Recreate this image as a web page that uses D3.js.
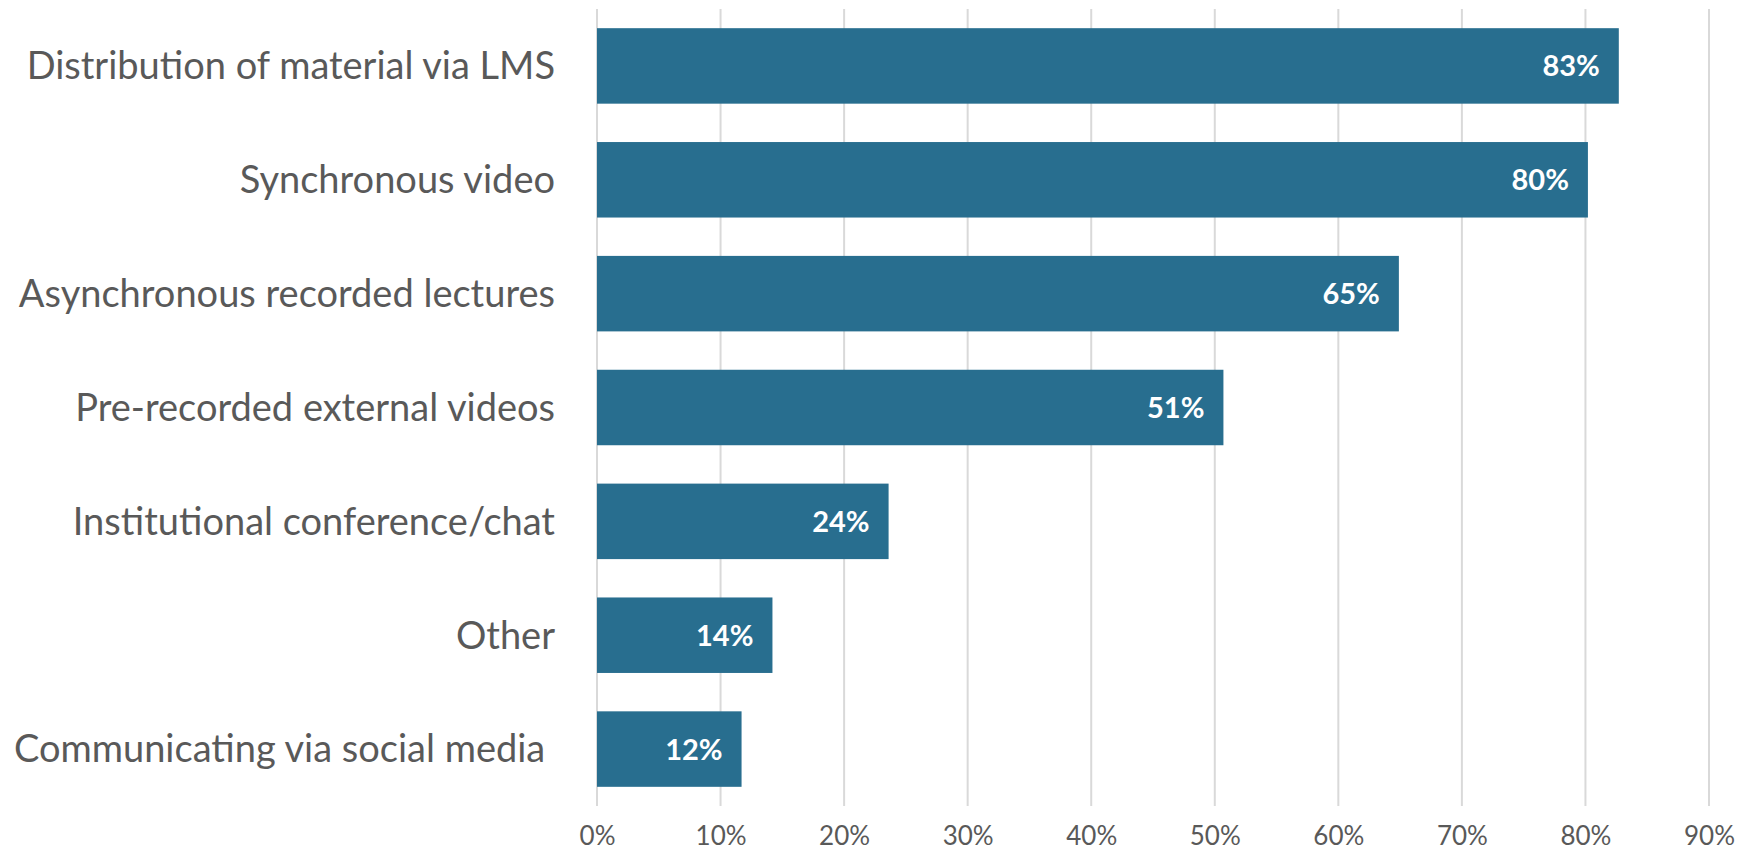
<!DOCTYPE html>
<html>
<head>
<meta charset="utf-8">
<script src="https://cdn.jsdelivr.net/npm/d3@7"></script>
<style>
  html, body { margin: 0; padding: 0; background: #ffffff; }
  svg { display: block; }
  text { font-family: Lato, "Open Sans", sans-serif; }
</style>
</head>
<body>
<svg id="chart" width="1741" height="852"></svg>
<script>
// Teaching methods used, share of respondents
const categories = [
  "Distribution of material via LMS",
  "Synchronous video",
  "Asynchronous recorded lectures",
  "Pre-recorded external videos",
  "Institutional conference/chat",
  "Other",
  "Communicating via social media "
];
const shares = [0.827, 0.802, 0.649, 0.507, 0.236, 0.142, 0.117];
const tickValues = [0, 0.1, 0.2, 0.3, 0.4, 0.5, 0.6, 0.7, 0.8, 0.9];

const data = categories.map((c, i) => ({ category: c, value: shares[i] }));

const svg = d3.select("#chart");
const plot = { left: 597, right: 1709, top: 9, bottom: 806 };

const x = d3.scaleLinear().domain([0, 0.9]).range([plot.left, plot.right]);
const y = d3.scaleBand()
  .domain(categories)
  .range([plot.top, plot.bottom])
  .paddingInner(0.337)
  .paddingOuter(0.1685);

const pct = d3.format(".0%");

// vertical gridlines
svg.append("g")
  .selectAll("line")
  .data(tickValues)
  .join("line")
  .attr("x1", d => x(d)).attr("x2", d => x(d))
  .attr("y1", plot.top).attr("y2", plot.bottom)
  .attr("stroke", "#d9d9d9")
  .attr("stroke-width", 2);

// bottom axis labels
const xAxis = d3.axisBottom(x)
  .tickValues(tickValues)
  .tickFormat(pct)
  .tickSize(0)
  .tickPadding(0);

const gx = svg.append("g")
  .attr("transform", `translate(0,${plot.bottom})`)
  .call(xAxis);
gx.select(".domain").remove();
gx.selectAll("text")
  .attr("y", 39)
  .attr("dy", null)
  .attr("fill", "#595959")
  .style("font-size", "26px");

// category axis labels
const yAxis = d3.axisLeft(y).tickSize(0).tickPadding(0);
const gy = svg.append("g")
  .attr("transform", `translate(555,0)`)
  .call(yAxis);
gy.select(".domain").remove();
gy.selectAll("text")
  .attr("fill", "#595959")
  .attr("dy", "0.35em")
  .style("font-size", "38px")
  .style("white-space", "pre");

// bars
svg.append("g")
  .selectAll("rect")
  .data(data)
  .join("rect")
  .attr("x", x(0))
  .attr("y", d => y(d.category))
  .attr("width", d => x(d.value) - x(0))
  .attr("height", y.bandwidth())
  .attr("fill", "#286e8f");

// value labels inside bar ends
svg.append("g")
  .selectAll("text")
  .data(data)
  .join("text")
  .attr("x", d => x(d.value) - 19)
  .attr("y", d => y(d.category) + y.bandwidth() / 2)
  .attr("dy", "0.36em")
  .attr("text-anchor", "end")
  .attr("fill", "#ffffff")
  .style("font-size", "29px")
  .style("font-weight", "700")
  .text(d => pct(d.value));
</script>
</body>
</html>
